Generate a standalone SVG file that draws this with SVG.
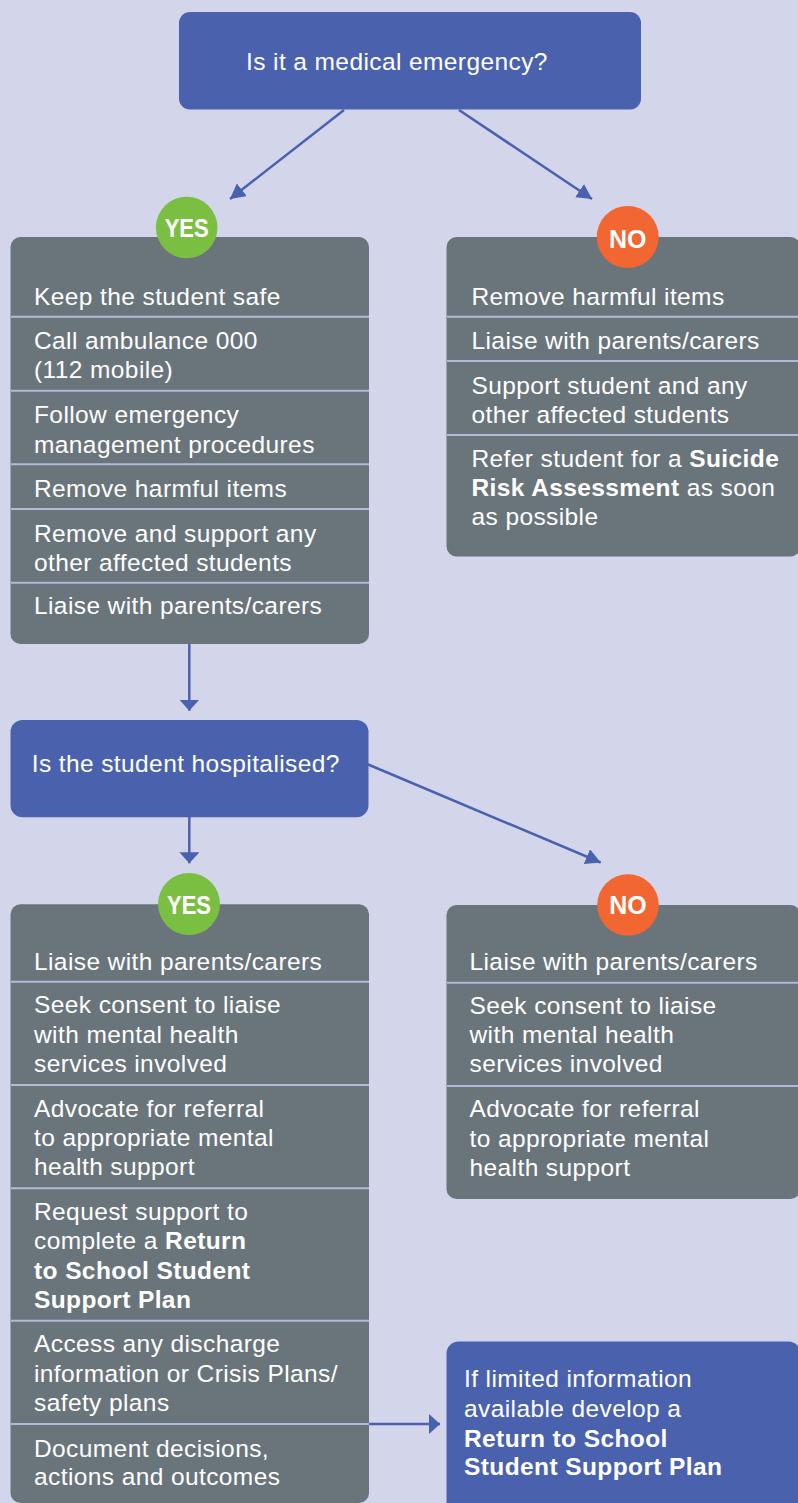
<svg xmlns="http://www.w3.org/2000/svg" width="798" height="1503" viewBox="0 0 798 1503">
  <style>
    .bg { fill: #d3d5eb; }
    .q { fill: #4a62ad; }
    .card { fill: #6a757b; }
    .rule { stroke: #b3b9d6; stroke-width: 2; }
    .t { font-family: "Liberation Sans", Arial, sans-serif; font-size: 24.5px; letter-spacing: 0.4px; fill: #ffffff; }
    .b { font-weight: bold; }
    .badge { font-family: "Liberation Sans", Arial, sans-serif; font-weight: bold; fill: #ffffff; text-anchor: middle; }
    .yes { fill: #7bbf42; }
    .no { fill: #f26631; }
    .link { stroke: #4a62ad; stroke-width: 2.5; fill: none; }
  </style>
  <defs>
    <marker id="head" markerUnits="userSpaceOnUse" markerWidth="12" markerHeight="20" refX="11" refY="10" orient="auto">
      <path d="M0,0 L11,10 L0,20 z" fill="#4a62ad"/>
    </marker>
    <marker id="headD" markerUnits="userSpaceOnUse" markerWidth="16" markerHeight="16" refX="15" refY="8" orient="auto">
      <path d="M0,0 L15,8 L0,16 z" fill="#4a62ad"/>
    </marker>
  </defs>

  <rect class="bg" x="0" y="0" width="798" height="1503"/>

  <!-- connectors -->
  <g id="connectors">
    <path class="link" d="M344,110 L230,199" marker-end="url(#headD)"/>
    <path class="link" d="M459,110 L592,199" marker-end="url(#headD)"/>
    <path class="link" d="M189.3,644 L189.3,710.7" marker-end="url(#head)"/>
    <path class="link" d="M189.3,817 L189.3,863.3" marker-end="url(#head)"/>
    <path class="link" d="M367,764 L600.7,862.5" marker-end="url(#headD)"/>
    <path class="link" d="M369,1424 L440,1424" marker-end="url(#head)"/>
  </g>

  <!-- first question -->
  <g id="q-emergency">
    <rect class="q" x="179" y="12" width="462" height="97.5" rx="11"/>
    <text class="t" x="246" y="70">Is it a medical emergency?</text>
  </g>

  <!-- emergency: yes -->
  <g id="yes-emergency">
    <rect class="card" x="10.5" y="237" width="358.5" height="407" rx="10"/>
    <line class="rule" x1="11" y1="316.7" x2="369" y2="316.7"/>
    <line class="rule" x1="11" y1="390.7" x2="369" y2="390.7"/>
    <line class="rule" x1="11" y1="464.3" x2="369" y2="464.3"/>
    <line class="rule" x1="11" y1="509" x2="369" y2="509"/>
    <line class="rule" x1="11" y1="582.7" x2="369" y2="582.7"/>
    <text class="t" x="34" y="305">Keep the student safe</text>
    <text class="t" x="34" y="349">Call ambulance 000</text>
    <text class="t" x="34" y="378.3">(112 mobile)</text>
    <text class="t" x="34" y="422.7">Follow emergency</text>
    <text class="t" x="34" y="452.7">management procedures</text>
    <text class="t" x="34" y="496.7">Remove harmful items</text>
    <text class="t" x="34" y="541.7">Remove and support any</text>
    <text class="t" x="34" y="570.7">other affected students</text>
    <text class="t" x="34" y="614">Liaise with parents/carers</text>
    <circle class="yes" cx="186.7" cy="227.5" r="30.8"/>
    <text class="badge" x="186.7" y="237.3" font-size="26" textLength="44" lengthAdjust="spacingAndGlyphs">YES</text>
  </g>

  <!-- emergency: no -->
  <g id="no-emergency">
    <rect class="card" x="446.5" y="237" width="354" height="319.5" rx="10"/>
    <line class="rule" x1="447" y1="316.7" x2="798" y2="316.7"/>
    <line class="rule" x1="447" y1="361" x2="798" y2="361"/>
    <line class="rule" x1="447" y1="435" x2="798" y2="435"/>
    <text class="t" x="471.5" y="305">Remove harmful items</text>
    <text class="t" x="471.5" y="349.3">Liaise with parents/carers</text>
    <text class="t" x="471.5" y="394.3">Support student and any</text>
    <text class="t" x="471.5" y="422.7">other affected students</text>
    <text class="t" x="471.5" y="466.7">Refer student for a <tspan class="b">Suicide</tspan></text>
    <text class="t" x="471.5" y="496"><tspan class="b">Risk Assessment</tspan> as soon</text>
    <text class="t" x="471.5" y="525">as possible</text>
    <circle class="no" cx="627.7" cy="237" r="31"/>
    <text class="badge" x="627.7" y="248.3" font-size="25">NO</text>
  </g>

  <!-- second question -->
  <g id="q-hospitalised">
    <rect class="q" x="10.5" y="720" width="358" height="97.3" rx="12"/>
    <text class="t" x="31.7" y="772">Is the student hospitalised?</text>
  </g>

  <!-- hospitalised: yes -->
  <g id="yes-hospitalised">
    <rect class="card" x="10.5" y="904.3" width="358.5" height="598.7" rx="10"/>
    <line class="rule" x1="11" y1="981.7" x2="369" y2="981.7"/>
    <line class="rule" x1="11" y1="1085" x2="369" y2="1085"/>
    <line class="rule" x1="11" y1="1188.3" x2="369" y2="1188.3"/>
    <line class="rule" x1="11" y1="1320.7" x2="369" y2="1320.7"/>
    <line class="rule" x1="11" y1="1424" x2="369" y2="1424"/>
    <text class="t" x="34" y="969.5">Liaise with parents/carers</text>
    <text class="t" x="34" y="1013.3">Seek consent to liaise</text>
    <text class="t" x="34" y="1042.7">with mental health</text>
    <text class="t" x="34" y="1071.7">services involved</text>
    <text class="t" x="34" y="1116.7">Advocate for referral</text>
    <text class="t" x="34" y="1145.7">to appropriate mental</text>
    <text class="t" x="34" y="1175">health support</text>
    <text class="t" x="34" y="1220">Request support to</text>
    <text class="t" x="34" y="1249.3">complete a <tspan class="b">Return</tspan></text>
    <text class="t b" x="34" y="1279">to School Student</text>
    <text class="t b" x="34" y="1308.3">Support Plan</text>
    <text class="t" x="34" y="1352">Access any discharge</text>
    <text class="t" x="34" y="1381.7">information or Crisis Plans/</text>
    <text class="t" x="34" y="1410.5">safety plans</text>
    <text class="t" x="34" y="1456.7">Document decisions,</text>
    <text class="t" x="34" y="1485">actions and outcomes</text>
    <circle class="yes" cx="189" cy="904" r="31"/>
    <text class="badge" x="189" y="914" font-size="26" textLength="44" lengthAdjust="spacingAndGlyphs">YES</text>
  </g>

  <!-- hospitalised: no -->
  <g id="no-hospitalised">
    <rect class="card" x="446.5" y="905" width="354" height="294" rx="10"/>
    <line class="rule" x1="447" y1="982.7" x2="798" y2="982.7"/>
    <line class="rule" x1="447" y1="1086" x2="798" y2="1086"/>
    <text class="t" x="469.5" y="970">Liaise with parents/carers</text>
    <text class="t" x="469.5" y="1013.7">Seek consent to liaise</text>
    <text class="t" x="469.5" y="1043">with mental health</text>
    <text class="t" x="469.5" y="1072">services involved</text>
    <text class="t" x="469.5" y="1117">Advocate for referral</text>
    <text class="t" x="469.5" y="1146.7">to appropriate mental</text>
    <text class="t" x="469.5" y="1176">health support</text>
    <circle class="no" cx="628" cy="905" r="30.8"/>
    <text class="badge" x="628" y="914" font-size="25">NO</text>
  </g>

  <!-- fallback plan -->
  <g id="limited-info">
    <rect class="q" x="446.5" y="1341.5" width="354" height="175" rx="12"/>
    <text class="t" x="464" y="1386.7">If limited information</text>
    <text class="t" x="464" y="1416.7">available develop a</text>
    <text class="t b" x="464" y="1446.7">Return to School</text>
    <text class="t b" x="464" y="1475">Student Support Plan</text>
  </g>
</svg>
